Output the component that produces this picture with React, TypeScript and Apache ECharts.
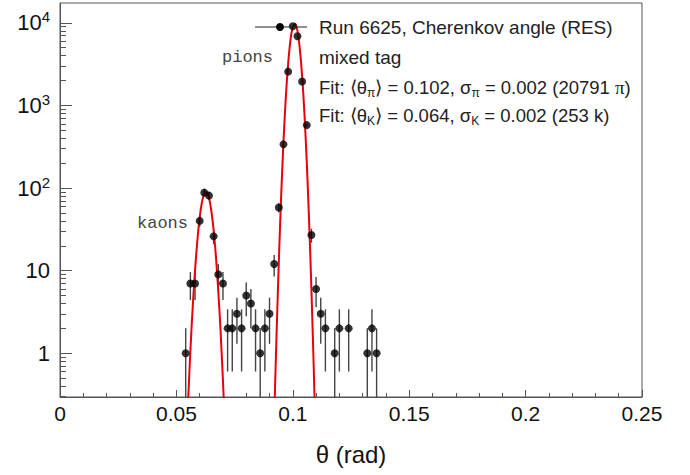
import React, { useEffect, useRef } from "react";
import * as echarts from "echarts";

// Histogram bins (rad) and counts
const binTheta = [0.054, 0.056, 0.058, 0.060, 0.062, 0.064, 0.066, 0.068, 0.070, 0.072, 0.074, 0.076, 0.078, 0.080, 0.082, 0.084, 0.086, 0.088, 0.090, 0.092, 0.094, 0.096, 0.098, 0.100, 0.102, 0.104, 0.106, 0.108, 0.110, 0.112, 0.114, 0.118, 0.120, 0.124, 0.132, 0.134, 0.136];
const binCounts = [1, 7, 7, 40, 88, 81, 26, 9, 7, 2, 2, 3, 2, 5, 4, 2, 1, 2, 3, 12, 58, 338, 2570, 9100, 6900, 1950, 578, 27, 6, 3, 2, 1, 2, 2, 1, 2, 1];
const binErrors = [1, 2.6, 2.6, 6.3, 9.4, 9, 5.1, 3, 2.6, 1.4, 1.4, 1.7, 1.4, 2.2, 2, 1.4, 1, 1.4, 1.7, 3.5, 7.6, 18, 51, 95, 83, 44, 24, 5.2, 2.4, 1.7, 1.4, 1, 1.4, 1.4, 1, 1.4, 1];

// Fit curves
const kaonCurveTheta = [0.054, 0.055, 0.056, 0.057, 0.058, 0.059, 0.060, 0.061, 0.062, 0.063, 0.064, 0.065, 0.066, 0.067, 0.068, 0.069, 0.070, 0.071];
const kaonCurveValues = [0.05, 0.25, 1.06, 3.6, 10, 23, 44, 68, 86, 89, 76, 53, 31, 14.5, 5.6, 1.8, 0.46, 0.1];
const pionCurveTheta = [0.092, 0.093, 0.094, 0.095, 0.096, 0.097, 0.098, 0.099, 0.100, 0.101, 0.102, 0.103, 0.104, 0.105, 0.106, 0.107, 0.108, 0.109, 0.110];
const pionCurveValues = [0.16, 1.6, 13, 80, 365, 1260, 3200, 6200, 8900, 9750, 8000, 4900, 2300, 800, 205, 40, 5.9, 0.66, 0.055];

// Axes
const xMin = 0;
const xMax = 0.25;
const xInterval = 0.05;
const yMinValue = 0.295;
const yMaxValue = 17400;
const yMajorTicks = [1, 10, 100, 1000, 10000];
const yMinorMultipliers = [2, 3, 4, 5, 6, 7, 8, 9];

const FONT = "'Liberation Sans', Arial, Helvetica, sans-serif";
const MONO = "'Liberation Mono', 'DejaVu Sans Mono', monospace";
const FRAME = "#555";

export default function App() {
  const ref = useRef<HTMLDivElement>(null);

  useEffect(() => {
    if (!ref.current) return;
    const chart = echarts.init(ref.current, null, { renderer: "svg" });
    const lg = (v: number) => Math.log10(v);
    const yMin = lg(yMinValue);
    const yMax = lg(yMaxValue);

    const majorLog = yMajorTicks.map(lg);
    const minorLog: number[] = [];
    [0.1, 1, 10, 100, 1000, 10000].forEach((d) => {
      yMinorMultipliers.forEach((m) => {
        const v = lg(m * d);
        if (v > yMin && v < yMax) minorLog.push(v);
      });
    });

    const points = binTheta.map((t, i) => [t, lg(binCounts[i])]);
    const errData = binTheta.map((t, i) => {
      const lo = binCounts[i] - binErrors[i];
      const hi = binCounts[i] + binErrors[i];
      return [t, lo > 0 ? lg(lo) : yMin - 1, lg(hi)];
    });

    const option: any = {
      animation: false,
      grid: {
        left: 60,
        right: 48,
        top: 3,
        bottom: 78,
        show: true,
        borderColor: FRAME,
        borderWidth: 1,
        containLabel: false,
        outerBoundsMode: "none",
      },
      xAxis: {
        type: "value",
        min: xMin,
        max: xMax,
        interval: xInterval,
        name: "θ (rad)",
        nameLocation: "middle",
        nameGap: 45,
        nameTextStyle: { fontFamily: FONT, fontSize: 24, color: "#111" },
        axisLine: { onZero: false, lineStyle: { color: FRAME, width: 1 } },
        axisTick: { inside: true, length: 7, lineStyle: { color: FRAME } },
        minorTick: { show: true, splitNumber: 5, length: 4, lineStyle: { color: FRAME } },
        splitLine: { show: false },
        axisLabel: { fontFamily: FONT, fontSize: 21, color: "#111", margin: 6 },
      },
      yAxis: [
        {
          type: "value",
          min: yMin,
          max: yMax,
          axisLine: { show: true, onZero: false, lineStyle: { color: FRAME, width: 1 } },
          axisTick: { show: true, inside: true, length: 12, customValues: majorLog, lineStyle: { color: FRAME } },
          splitLine: { show: false },
          axisLabel: {
            customValues: majorLog,
            margin: 10,
            fontFamily: FONT,
            fontSize: 22,
            color: "#111",
            formatter: (v: number) => {
              const n = Math.round(v);
              if (n === 0) return "1";
              if (n === 1) return "10";
              return "{b|10}{s|" + n + "}";
            },
            rich: {
              b: { fontFamily: FONT, fontSize: 22, color: "#111" },
              s: { fontFamily: FONT, fontSize: 15, color: "#111", verticalAlign: "top", padding: [0, 0, 12, 0] },
            },
          },
        },
        {
          type: "value",
          min: yMin,
          max: yMax,
          position: "left",
          axisLine: { show: false },
          axisTick: { show: true, inside: true, length: 6, customValues: minorLog, lineStyle: { color: FRAME } },
          axisLabel: { show: false },
          splitLine: { show: false },
        },
      ],
      series: [
        {
          type: "custom",
          name: "errors",
          clip: true,
          z: 2,
          data: errData,
          renderItem: (params: any, api: any) => {
            const x = api.value(0);
            const p1 = api.coord([x, Math.max(api.value(1), yMin - 0.2)]);
            const p2 = api.coord([x, api.value(2)]);
            return {
              type: "line",
              shape: { x1: p1[0], y1: p1[1], x2: p2[0], y2: p2[1] },
              style: { stroke: "#444", lineWidth: 1.4 },
            };
          },
        },
        {
          type: "line",
          name: "kaon fit",
          data: kaonCurveTheta.map((t, i) => [t, lg(kaonCurveValues[i])]),
          showSymbol: false,
          smooth: 0.3,
          clip: true,
          z: 3,
          lineStyle: { color: "#e8000b", width: 2 },
        },
        {
          type: "line",
          name: "pion fit",
          data: pionCurveTheta.map((t, i) => [t, lg(pionCurveValues[i])]),
          showSymbol: false,
          smooth: 0.3,
          clip: true,
          z: 3,
          lineStyle: { color: "#e8000b", width: 2 },
        },
        {
          type: "scatter",
          name: "Run 6625",
          data: points,
          symbol: "circle",
          symbolSize: 8,
          z: 4,
          itemStyle: { color: "#000" },
        },
      ],
      graphic: [
        { type: "line", shape: { x1: 255, y1: 27, x2: 307, y2: 27 }, style: { stroke: "#222", lineWidth: 1 }, z: 10 },
        { type: "circle", shape: { cx: 280, cy: 27, r: 4 }, style: { fill: "#000" }, z: 10 },
        {
          type: "text", x: 319, y: 27, z: 10,
          style: { text: "Run 6625, Cherenkov angle (RES)", fontFamily: FONT, fontSize: 19, fill: "#222", verticalAlign: "middle" },
        },
        {
          type: "text", x: 319, y: 57, z: 10,
          style: { text: "mixed tag", fontFamily: FONT, fontSize: 19, fill: "#222", verticalAlign: "middle" },
        },
        {
          type: "text", x: 319, y: 87, z: 10,
          style: {
            text: "Fit: ⟨θ{sub|π}⟩ = 0.102, σ{sub|π} = 0.002 (20791 {pi|π})",
            fontFamily: FONT, fontSize: 18.5, fill: "#222", verticalAlign: "middle",
            rich: {
              sub: { fontFamily: FONT, fontSize: 12, fill: "#222", verticalAlign: "bottom", padding: [11, 0, 0, 0] },
              pi: { fontFamily: "'Liberation Serif', serif", fontSize: 19, fill: "#222" },
            },
          },
        },
        {
          type: "text", x: 319, y: 115, z: 10,
          style: {
            text: "Fit: ⟨θ{sub|K}⟩ = 0.064, σ{sub|K} = 0.002 (253 k)",
            fontFamily: FONT, fontSize: 18.5, fill: "#222", verticalAlign: "middle",
            rich: {
              sub: { fontFamily: FONT, fontSize: 12, fill: "#222", verticalAlign: "bottom", padding: [11, 0, 0, 0] },
            },
          },
        },
        {
          type: "text", x: 222, y: 57, z: 10,
          style: { text: "pions", fontFamily: MONO, fontSize: 17, fill: "#444", verticalAlign: "middle" },
        },
        {
          type: "text", x: 137, y: 223, z: 10,
          style: { text: "kaons", fontFamily: MONO, fontSize: 17, fill: "#444", verticalAlign: "middle" },
        },
      ],
    };

    chart.setOption(option);
    return () => chart.dispose();
  }, []);

  return (
    <div
      ref={ref}
      style={{ position: "absolute", left: 0, top: 0, width: 690, height: 475, background: "#fff" }}
    />
  );
}
